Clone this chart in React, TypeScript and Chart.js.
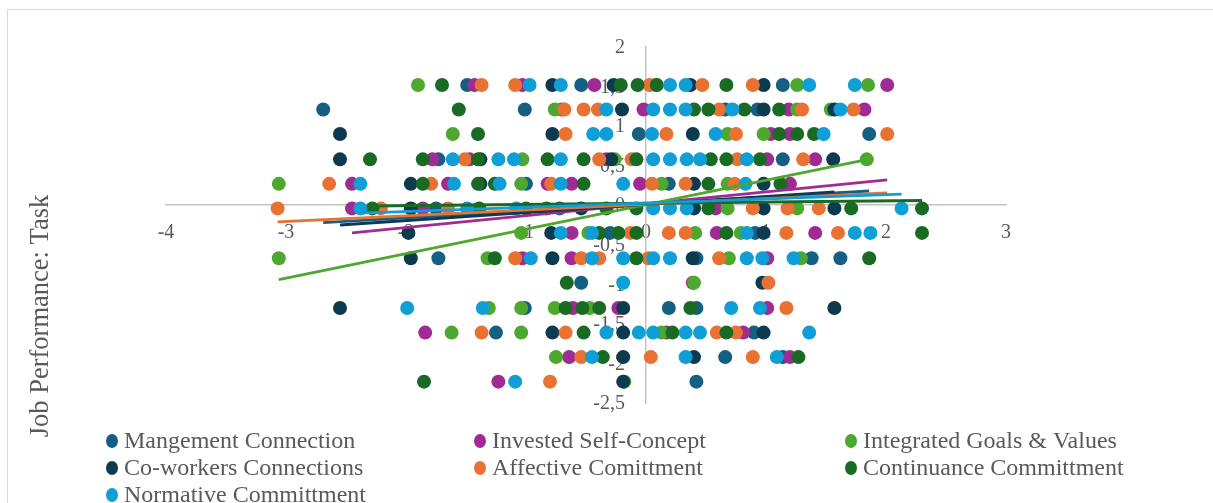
import { useEffect, useRef } from "react";
import { Chart, registerables } from "chart.js";

Chart.register(...registerables);

const FONT = '"Liberation Serif", "Times New Roman", Times, serif';
const TEXT_COLOR = "#595959";
const AXIS_COLOR = "#c3c3c3";

// ---- axis / labels ----
const xMin = -4;
const xMax = 3;
const yMin = -2.5;
const yMax = 2;
const yAxisTitle = "Job Performance: Task";

// ---- series names & colours ----
const seriesNames = [
  "Mangement Connection",
  "Invested Self-Concept",
  "Integrated Goals & Values",
  "Co-workers Connections",
  "Affective Comittment",
  "Continuance Committment",
  "Normative Committment",
];
const seriesColors = ["#156082", "#A02B93", "#4EA72E", "#0E3A50", "#E97132", "#196B24", "#0F9ED5"];

// ---- data points [x, y] ----
const mangementConnection: [number, number][] = [
  [-1.49, 1.52], [-0.54, 1.52], [1.14, 1.52],
  [-2.69, 1.21], [-1.01, 1.21], [0.66, 1.21], [0.93, 1.21],
  [-0.06, 0.9], [1.86, 0.9],
  [-1.73, 0.58], [1.14, 0.58],
  [-1.0, 0.27], [0.19, 0.27],
  [-1.75, -0.04], [-0.72, -0.04],
  [-0.3, -0.35], [0.91, -0.35],
  [-1.73, -0.67], [0.42, -0.67], [1.38, -0.67], [1.62, -0.67],
  [-0.54, -0.98],
  [-1.01, -1.3], [0.19, -1.3], [0.42, -1.3],
  [-1.25, -1.61], [0.9, -1.61],
  [0.66, -1.92], [1.14, -1.92],
  [0.42, -2.23],
];
const investedSelfConcept: [number, number][] = [
  [-1.43, 1.52], [-1.03, 1.52], [-0.43, 1.52], [2.01, 1.52],
  [-0.7, 1.21], [-0.02, 1.21], [1.19, 1.21], [1.82, 1.21],
  [1.04, 0.9], [1.2, 0.9],
  [-1.78, 0.58], [-1.47, 0.58], [-0.33, 0.58], [1.01, 0.58], [1.41, 0.58],
  [-2.45, 0.27], [-1.65, 0.27], [-0.82, 0.27], [-0.62, 0.27], [-0.05, 0.27], [1.2, 0.27],
  [-2.45, -0.04], [-1.86, -0.04], [0.58, -0.04],
  [-0.62, -0.35], [0.59, -0.35], [1.41, -0.35],
  [-1.03, -0.67], [-0.62, -0.67], [1.01, -0.67],
  [0.39, -0.98],
  [-0.61, -1.3], [-0.23, -1.3], [1.01, -1.3],
  [-1.84, -1.61], [0.17, -1.61], [0.81, -1.61],
  [-0.64, -1.92], [1.2, -1.92],
  [-1.23, -2.23],
];
const integratedGoals: [number, number][] = [
  [-1.9, 1.52], [0.08, 1.52], [1.26, 1.52], [1.85, 1.52],
  [-0.76, 1.21], [1.26, 1.21], [1.54, 1.21],
  [-1.61, 0.9], [0.68, 0.9], [0.98, 0.9],
  [-1.03, 0.58], [-0.26, 0.58], [1.84, 0.58],
  [-3.06, 0.27], [-1.04, 0.27], [0.13, 0.27], [0.68, 0.27],
  [0.68, -0.04], [1.26, -0.04],
  [-1.04, -0.35], [-0.48, -0.35], [0.41, -0.35], [0.79, -0.35],
  [-3.06, -0.67], [-1.32, -0.67], [0.69, -0.67], [1.29, -0.67],
  [0.4, -0.98],
  [-1.31, -1.3], [-1.04, -1.3], [-0.76, -1.3], [-0.47, -1.3],
  [-1.62, -1.61], [-1.04, -1.61], [0.13, -1.61],
  [-0.75, -1.92],
  [-0.18, -2.23],
];
const coworkersConnections: [number, number][] = [
  [-0.78, 1.52], [-0.27, 1.52], [0.37, 1.52], [0.98, 1.52],
  [-0.2, 1.21], [0.98, 1.21], [1.57, 1.21],
  [-2.55, 0.9], [-0.78, 0.9], [0.39, 0.9],
  [-2.55, 0.58], [-1.38, 0.58], [-0.29, 0.58], [1.56, 0.58],
  [-1.96, 0.27], [-1.38, 0.27], [0.4, 0.27], [0.98, 0.27],
  [-1.96, -0.04], [-0.54, -0.04], [0.4, -0.04], [0.98, -0.04], [1.57, -0.04],
  [-1.98, -0.35], [-0.79, -0.35], [0.98, -0.35],
  [-1.96, -0.67], [-0.78, -0.67], [0.39, -0.67],
  [0.97, -0.98],
  [-2.55, -1.3], [-0.19, -1.3], [1.57, -1.3],
  [-0.78, -1.61], [-0.19, -1.61], [0.98, -1.61],
  [-0.19, -1.92], [0.4, -1.92],
  [-0.19, -2.23],
];
const affectiveCommitment: [number, number][] = [
  [-1.37, 1.52], [-1.09, 1.52], [0.03, 1.52], [0.47, 1.52], [0.89, 1.52],
  [-0.68, 1.21], [-0.52, 1.21], [-0.4, 1.21], [0.61, 1.21], [1.3, 1.21], [1.73, 1.21],
  [-0.67, 0.9], [0.17, 0.9], [0.75, 0.9], [2.01, 0.9],
  [-1.51, 0.58], [-0.39, 0.58], [-0.12, 0.58], [0.76, 0.58], [1.31, 0.58],
  [-2.64, 0.27], [-1.79, 0.27], [-0.79, 0.27], [0.05, 0.27], [0.33, 0.27], [0.74, 0.27],
  [-3.07, -0.04], [-2.21, -0.04], [-1.65, -0.04], [0.89, -0.04], [1.18, -0.04], [1.44, -0.04],
  [-0.13, -0.35], [0.19, -0.35], [0.33, -0.35], [1.17, -0.35], [1.6, -0.35],
  [-1.09, -0.67], [-0.54, -0.67], [-0.39, -0.67], [0.02, -0.67], [0.61, -0.67],
  [1.02, -0.98],
  [1.17, -1.3],
  [-1.37, -1.61], [-0.67, -1.61], [0.59, -1.61], [0.75, -1.61],
  [-0.54, -1.92], [0.04, -1.92], [0.89, -1.92],
  [-0.8, -2.23],
];
const continuanceCommitment: [number, number][] = [
  [-1.7, 1.52], [-0.21, 1.52], [-0.07, 1.52], [0.09, 1.52], [0.67, 1.52],
  [-1.56, 1.21], [0.4, 1.21], [0.52, 1.21], [0.82, 1.21], [1.11, 1.21],
  [-1.4, 0.9], [1.11, 0.9], [1.26, 0.9], [1.4, 0.9],
  [-2.3, 0.58], [-1.86, 0.58], [-1.4, 0.58], [-0.82, 0.58], [-0.52, 0.58], [-0.08, 0.58], [0.54, 0.58], [0.67, 0.58], [0.95, 0.58],
  [-1.86, 0.27], [-1.4, 0.27], [-1.26, 0.27], [-0.52, 0.27], [0.52, 0.27], [1.12, 0.27],
  [-2.28, -0.04], [-1.39, -0.04], [-1.0, -0.04], [-0.83, -0.04], [-0.33, -0.04], [-0.08, -0.04], [0.52, -0.04], [1.71, -0.04], [2.3, -0.04],
  [-0.39, -0.35], [-0.23, -0.35], [-0.08, -0.35], [0.67, -0.35], [2.3, -0.35],
  [-1.26, -0.67], [-0.08, -0.67], [1.86, -0.67],
  [-0.66, -0.98],
  [-0.67, -1.3], [-0.53, -1.3], [-0.39, -1.3], [0.37, -1.3],
  [-0.52, -1.61], [0.22, -1.61], [0.67, -1.61],
  [-0.36, -1.92], [1.27, -1.92],
  [-1.85, -2.23],
];
const normativeCommitment: [number, number][] = [
  [-0.97, 1.52], [-0.71, 1.52], [0.2, 1.52], [0.33, 1.52], [1.36, 1.52], [1.74, 1.52],
  [-0.33, 1.21], [0.06, 1.21], [0.2, 1.21], [0.33, 1.21], [0.72, 1.21], [1.62, 1.21],
  [-0.44, 0.9], [-0.33, 0.9], [0.05, 0.9], [0.58, 0.9], [1.48, 0.9],
  [-1.61, 0.58], [-1.23, 0.58], [-1.1, 0.58], [-0.71, 0.58], [0.06, 0.58], [0.2, 0.58], [0.34, 0.58], [0.45, 0.58], [0.84, 0.58],
  [-2.38, 0.27], [-1.6, 0.27], [-1.22, 0.27], [-0.71, 0.27], [-0.19, 0.27], [0.83, 0.27],
  [-2.38, -0.04], [-1.49, -0.04], [-1.08, -0.04], [0.06, -0.04], [0.2, -0.04], [0.34, -0.04], [2.13, -0.04],
  [-0.71, -0.35], [-0.45, -0.35], [0.84, -0.35], [1.74, -0.35], [1.87, -0.35],
  [-0.96, -0.67], [-0.45, -0.67], [-0.19, -0.67], [0.06, -0.67], [0.2, -0.67], [0.84, -0.67], [0.97, -0.67], [1.23, -0.67],
  [-0.19, -0.98],
  [-1.99, -1.3], [-1.36, -1.3], [0.71, -1.3], [0.95, -1.3],
  [-0.33, -1.61], [-0.06, -1.61], [0.06, -1.61], [0.33, -1.61], [0.45, -1.61], [1.36, -1.61],
  [-0.45, -1.92], [0.33, -1.92], [1.09, -1.92],
  [-1.09, -2.23],
];

// ---- linear trendlines (endpoints) ----
const trendMangement: [number, number][] = [[-2.69, -0.22], [1.86, 0.18]];
const trendInvested: [number, number][] = [[-2.45, -0.35], [2.01, 0.32]];
const trendIntegrated: [number, number][] = [[-3.06, -0.94], [1.85, 0.58]];
const trendCoworkers: [number, number][] = [[-2.55, -0.25], [1.57, 0.17]];
const trendAffective: [number, number][] = [[-3.07, -0.21], [2.01, 0.155]];
const trendContinuance: [number, number][] = [[-2.3, -0.01], [2.3, 0.06]];
const trendNormative: [number, number][] = [[-2.38, -0.1], [2.13, 0.14]];

const seriesPoints = [
  mangementConnection,
  investedSelfConcept,
  integratedGoals,
  coworkersConnections,
  affectiveCommitment,
  continuanceCommitment,
  normativeCommitment,
];
const seriesTrends = [
  trendMangement,
  trendInvested,
  trendIntegrated,
  trendCoworkers,
  trendAffective,
  trendContinuance,
  trendNormative,
];

const toXY = (arr: [number, number][]) => arr.map(([x, y]) => ({ x, y }));

const decorPlugin = {
  id: "decor",
  beforeDraw(chart: any) {
    const ctx = chart.ctx;
    ctx.save();
    ctx.strokeStyle = "#d9d9d9";
    ctx.lineWidth = 1;
    ctx.strokeRect(7.5, 9.5, 1400, 700);
    ctx.restore();
  },
  beforeDatasetsDraw(chart: any) {
    const ctx = chart.ctx;
    const ys = chart.scales.y;
    const xs = chart.scales.x;
    const axisX = xs.getPixelForValue(0);
    ctx.save();
    ctx.fillStyle = TEXT_COLOR;
    ctx.font = `20px ${FONT}`;
    ctx.textAlign = "right";
    ctx.textBaseline = "middle";
    ys.ticks.forEach((t: any) => {
      const label = String(Math.round(t.value * 10) / 10).replace(".", ",");
      ctx.fillText(label, axisX - 21, ys.getPixelForValue(t.value) + 1);
    });
    ctx.restore();
  },
  afterDraw(chart: any) {
    const ctx = chart.ctx;
    ctx.save();
    // axis title
    ctx.fillStyle = TEXT_COLOR;
    ctx.font = `26.5px ${FONT}`;
    ctx.textAlign = "center";
    ctx.textBaseline = "middle";
    ctx.translate(41, 316);
    ctx.rotate(-Math.PI / 2);
    ctx.fillText(yAxisTitle, 0, 0);
    ctx.restore();

    // legend
    const colX = [112, 480, 851];
    const rowY = [441, 468, 495];
    ctx.save();
    ctx.font = `24px ${FONT}`;
    ctx.textBaseline = "middle";
    ctx.textAlign = "left";
    seriesNames.forEach((name, i) => {
      const cx = colX[i % 3];
      const cy = rowY[Math.floor(i / 3)];
      ctx.fillStyle = seriesColors[i];
      ctx.beginPath();
      ctx.ellipse(cx, cy, 6, 7, 0, 0, Math.PI * 2);
      ctx.fill();
      ctx.fillStyle = TEXT_COLOR;
      ctx.fillText(name, cx + 12, cy + 1);
    });
    ctx.restore();
  },
};

export default function App() {
  const ref = useRef<HTMLCanvasElement>(null);

  useEffect(() => {
    if (!ref.current) return;
    const pointSets = seriesPoints.map((pts, i) => ({
      type: "scatter" as const,
      label: seriesNames[i],
      data: toXY(pts),
      backgroundColor: seriesColors[i],
      borderColor: seriesColors[i],
      borderWidth: 0,
      pointRadius: 7,
      pointHoverRadius: 7,
      order: 20 - i,
    }));
    const trendSets = seriesTrends.map((pts, i) => ({
      type: "scatter" as const,
      label: seriesNames[i] + " trend",
      data: toXY(pts),
      showLine: true,
      borderColor: seriesColors[i],
      backgroundColor: seriesColors[i],
      borderWidth: 2.8,
      pointRadius: 0,
      pointHoverRadius: 0,
      fill: false,
      order: 8 - i,
    }));

    const chart = new Chart(ref.current, {
      type: "scatter",
      data: { datasets: [...pointSets, ...trendSets] as any },
      options: {
        animation: false,
        responsive: false,
        events: [],
        layout: { padding: { left: 166, right: 207, top: 47, bottom: 100 } },
        plugins: { legend: { display: false }, tooltip: { enabled: false } },
        scales: {
          x: {
            type: "linear",
            min: xMin,
            max: xMax,
            position: { y: 0 } as any,
            afterFit: (s: any) => {
              s.height = 0;
            },
            grid: { display: false, drawTicks: false },
            border: { display: true, color: AXIS_COLOR, width: 1.5 },
            ticks: {
              stepSize: 1,
              autoSkip: false,
              maxRotation: 0,
              color: TEXT_COLOR,
              padding: 16,
              font: { family: FONT, size: 20 },
            },
          },
          y: {
            type: "linear",
            min: yMin,
            max: yMax,
            position: { x: 0 } as any,
            afterFit: (s: any) => {
              s.width = 0;
            },
            grid: { display: false, drawTicks: false },
            border: { display: true, color: AXIS_COLOR, width: 1.5 },
            ticks: { stepSize: 0.5, display: false, autoSkip: false },
          },
        },
      } as any,
      plugins: [decorPlugin],
    });
    return () => chart.destroy();
  }, []);

  return (
    <div style={{ position: "fixed", left: 0, top: 0, width: 1213, height: 503, background: "#fff" }}>
      <canvas ref={ref} width={1213} height={503} style={{ display: "block" }} />
    </div>
  );
}
